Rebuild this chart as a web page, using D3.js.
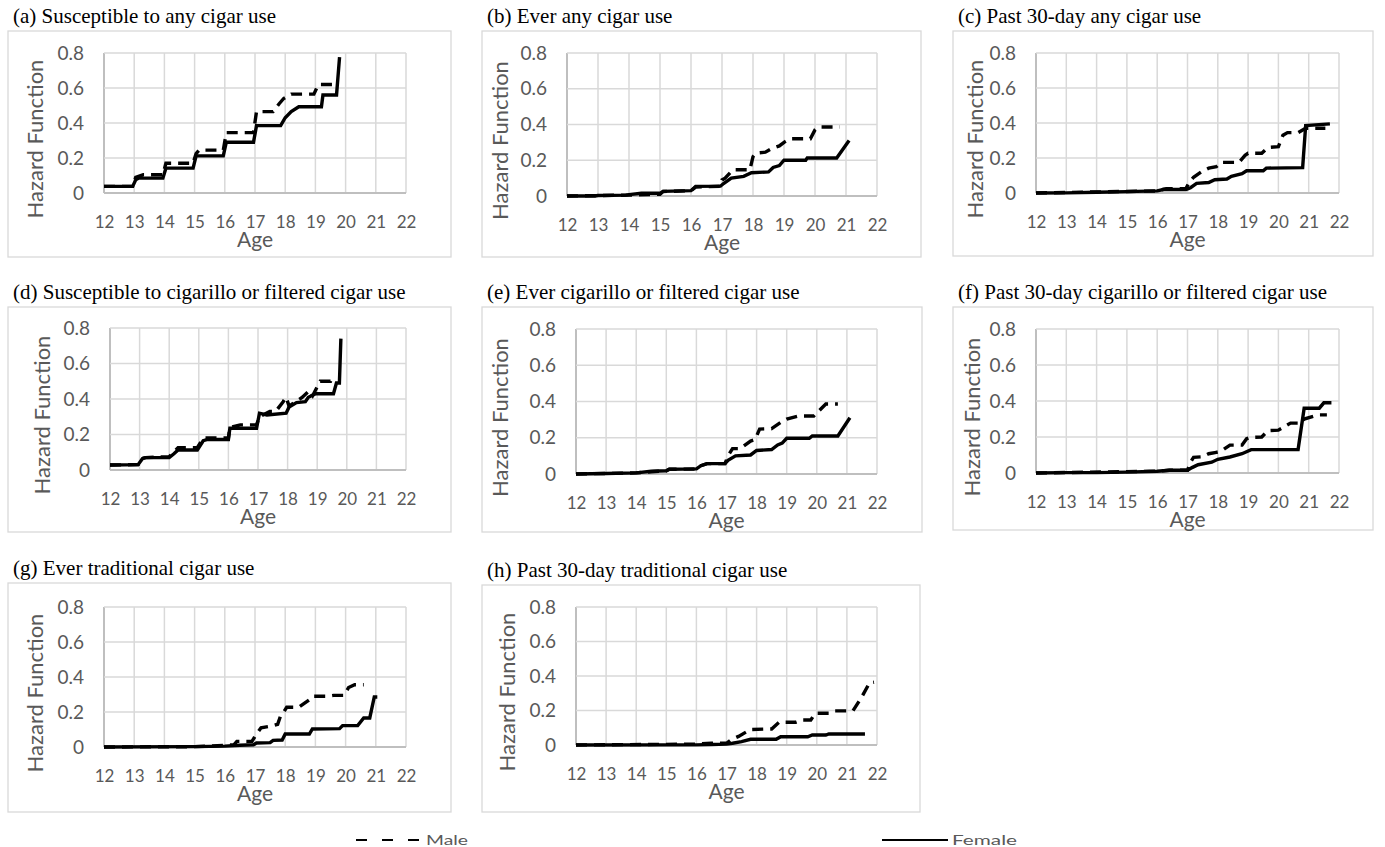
<!DOCTYPE html>
<html>
<head>
<meta charset="utf-8">
<script src="https://cdn.jsdelivr.net/npm/d3@7"></script>
<style>
  body { margin: 0; background: #fff; }
  text { fill: #595959; }
</style>
</head>
<body>
<svg id="chart" width="1385" height="847"></svg>
<script>
// panel titles
const TITLES = [
  "(a) Susceptible to any cigar use",
  "(b) Ever any cigar use",
  "(c) Past 30-day any cigar use",
  "(d) Susceptible to cigarillo or filtered cigar use",
  "(e) Ever cigarillo or filtered cigar use",
  "(f) Past 30-day cigarillo or filtered cigar use",
  "(g) Ever traditional cigar use",
  "(h) Past 30-day traditional cigar use"
];
const AGE_TICKS = [12, 13, 14, 15, 16, 17, 18, 19, 20, 21, 22];
const HAZ_TICKS = [0, 0.2, 0.4, 0.6, 0.8];
const SERIES = ["Male", "Female"];

// [age, hazard] points
const maleA = [[12,0.038],[12.95,0.038],[13.05,0.09],[13.3,0.104],[13.95,0.104],[14.05,0.17],[14.95,0.17],[15.05,0.225],[15.15,0.245],[15.95,0.245],[16.05,0.345],[16.95,0.345],[17.05,0.465],[17.6,0.465],[17.8,0.51],[17.95,0.54],[18.2,0.565],[18.95,0.565],[19.1,0.62],[19.65,0.62]];
const femaleA = [[12,0.038],[12.95,0.038],[13.05,0.075],[13.15,0.085],[13.95,0.085],[14.05,0.142],[14.95,0.142],[15.05,0.212],[15.95,0.212],[16.05,0.29],[16.95,0.29],[17.05,0.385],[17.85,0.385],[18.0,0.43],[18.2,0.465],[18.45,0.493],[19.2,0.493],[19.25,0.56],[19.7,0.56],[19.8,0.777]];

const maleB = [[12,0],[14,0.005],[15,0.01],[15.1,0.025],[16,0.03],[16.15,0.05],[16.95,0.055],[17.0,0.09],[17.1,0.1],[17.35,0.147],[17.9,0.147],[18.0,0.22],[18.1,0.24],[18.4,0.245],[18.6,0.265],[18.85,0.28],[19.0,0.3],[19.2,0.32],[19.85,0.32],[20.0,0.37],[20.1,0.386],[20.8,0.386]];
const femaleB = [[12,0],[12.9,0],[13,0.003],[13.9,0.005],[14,0.008],[14.4,0.015],[15,0.015],[15.1,0.026],[16,0.03],[16.15,0.054],[16.95,0.055],[17.05,0.07],[17.3,0.1],[17.7,0.11],[17.95,0.13],[18.5,0.135],[18.65,0.16],[18.85,0.17],[19.0,0.2],[19.7,0.2],[19.75,0.213],[20.7,0.213],[21.1,0.31]];

const maleC = [[12,0],[16,0.012],[16.3,0.025],[16.95,0.025],[17.05,0.06],[17.2,0.09],[17.45,0.12],[17.7,0.142],[17.95,0.15],[18.1,0.175],[18.7,0.175],[18.9,0.215],[19.0,0.227],[19.45,0.227],[19.65,0.26],[20.0,0.265],[20.15,0.33],[20.3,0.345],[20.65,0.345],[20.9,0.37],[21.55,0.37]];
const femaleC = [[12,0],[13,0.001],[14,0.004],[15,0.008],[16,0.012],[16.2,0.02],[16.95,0.02],[17.1,0.03],[17.3,0.055],[17.7,0.06],[17.9,0.076],[18.3,0.08],[18.45,0.095],[18.8,0.11],[18.95,0.127],[19.5,0.127],[19.6,0.142],[20.8,0.145],[20.9,0.385],[21.7,0.395]];

const maleD = [[12,0.028],[12.95,0.03],[13.1,0.065],[13.2,0.07],[14.0,0.075],[14.3,0.126],[14.95,0.126],[15.15,0.18],[16.0,0.18],[16.05,0.24],[16.4,0.254],[16.95,0.254],[17.05,0.3],[17.4,0.33],[17.6,0.33],[17.85,0.385],[17.95,0.41],[18.05,0.36],[18.5,0.41],[18.75,0.45],[18.85,0.42],[19.1,0.5],[19.45,0.5],[19.5,0.52]];
const femaleD = [[12,0.028],[12.95,0.03],[13.1,0.065],[13.2,0.07],[14.0,0.07],[14.15,0.09],[14.3,0.113],[14.95,0.113],[15.15,0.165],[15.3,0.172],[16.0,0.172],[16.05,0.235],[16.95,0.235],[17.05,0.32],[17.3,0.31],[17.95,0.32],[18.05,0.355],[18.3,0.38],[18.6,0.385],[18.7,0.41],[18.95,0.43],[19.55,0.43],[19.65,0.49],[19.75,0.49],[19.8,0.74]];

const maleE = [[12,0],[14,0.006],[15,0.018],[15.1,0.026],[16,0.028],[16.15,0.046],[16.35,0.057],[16.95,0.057],[17.05,0.1],[17.2,0.14],[17.45,0.14],[17.8,0.182],[17.95,0.19],[18.1,0.248],[18.5,0.25],[18.85,0.29],[19.0,0.303],[19.4,0.32],[19.9,0.32],[20.2,0.37],[20.3,0.386],[20.7,0.386]];
const femaleE = [[12,0],[13,0.003],[14,0.006],[14.5,0.015],[15,0.018],[15.1,0.026],[16,0.028],[16.15,0.046],[16.35,0.057],[16.95,0.057],[17.05,0.075],[17.3,0.1],[17.8,0.105],[18.0,0.13],[18.5,0.135],[18.7,0.16],[18.85,0.17],[19.0,0.197],[19.75,0.197],[19.85,0.21],[20.7,0.21],[21.1,0.31]];

const maleF = [[12,0],[16,0.01],[16.4,0.015],[17,0.015],[17.1,0.06],[17.2,0.087],[17.5,0.09],[17.7,0.107],[17.95,0.115],[18.1,0.12],[18.4,0.155],[18.8,0.155],[18.95,0.19],[19.1,0.198],[19.45,0.2],[19.65,0.235],[20.0,0.238],[20.4,0.277],[20.75,0.277],[20.85,0.3],[21.3,0.323],[21.6,0.323]];
const femaleF = [[12,0],[13,0.002],[14,0.002],[15,0.005],[16,0.01],[16.4,0.015],[17,0.015],[17.15,0.03],[17.35,0.046],[17.8,0.06],[18.0,0.076],[18.4,0.089],[18.8,0.107],[19.1,0.13],[20.65,0.13],[20.85,0.36],[21.35,0.36],[21.5,0.39],[21.75,0.39]];

const maleG = [[12,0],[15,0.002],[15.5,0.005],[16.0,0.01],[16.3,0.012],[16.4,0.032],[16.9,0.032],[17.0,0.061],[17.2,0.11],[17.55,0.12],[17.75,0.13],[17.85,0.18],[17.95,0.2],[18.05,0.227],[18.45,0.227],[18.8,0.27],[18.9,0.29],[19.4,0.29],[19.6,0.295],[19.95,0.295],[20.1,0.34],[20.3,0.356],[20.6,0.356]];
const femaleG = [[12,0],[15,0.002],[16,0.005],[16.5,0.01],[16.95,0.013],[17.05,0.023],[17.5,0.025],[17.6,0.038],[17.9,0.04],[18.0,0.074],[18.8,0.074],[18.9,0.103],[19.8,0.105],[19.9,0.122],[20.4,0.122],[20.6,0.166],[20.8,0.166],[20.95,0.286],[21.05,0.286]];

const maleH = [[12,0],[16,0.005],[16.5,0.01],[17,0.01],[17.15,0.03],[17.4,0.05],[17.8,0.09],[18.5,0.093],[18.75,0.132],[19.3,0.132],[19.5,0.145],[19.8,0.145],[19.95,0.184],[20.4,0.184],[20.6,0.198],[21.2,0.198],[21.5,0.28],[21.75,0.36],[21.9,0.364]];
const femaleH = [[12,0],[16,0.001],[16.5,0.003],[17,0.005],[17.2,0.01],[17.5,0.02],[17.8,0.033],[18.65,0.033],[18.8,0.048],[19.7,0.048],[19.85,0.058],[20.3,0.058],[20.4,0.064],[21.6,0.064]];

const MALE = [maleA, maleB, maleC, maleD, maleE, maleF, maleG, maleH];
const FEMALE = [femaleA, femaleB, femaleC, femaleD, femaleE, femaleF, femaleG, femaleH];

// layout: outer box [x, y, w, h], plot rect [left, top, right, bottom], y-title baseline x
const BOXES = [[8,31,443,226],[482,31,439,226],[953,31,420,225],
               [8,307,443,225],[482,307,440,225],[953,307,420,223],
               [8,583,443,229],[482,585,438,227]];
const PLOTS = [[104,53,406,193],[567,53,877,196],[1036,53,1339,193],
               [110,328,406,470],[576,329,877,474],[1036,329,1339,473],
               [104,607,406,747],[576,607,877,745]];
const YTITLE_X = [43, 508, 983, 50, 508, 980, 43, 515];

const svg = d3.select('#chart');
const GRID = '#d9d9d9';
const AXIS = '#bfbfbf';
const SANS = 'Lato, "Open Sans", sans-serif';

TITLES.forEach(function(title, i) {
  const box = BOXES[i], p = PLOTS[i];
  const g = svg.append('g');

  g.append('rect')
    .attr('x', box[0]).attr('y', box[1])
    .attr('width', box[2]).attr('height', box[3])
    .attr('fill', '#fff').attr('stroke', GRID).attr('stroke-width', 1.3);

  g.append('text')
    .attr('x', box[0] + 5).attr('y', box[1] - 8)
    .style('font-family', '"Liberation Serif", "Times New Roman", serif')
    .style('font-size', '21px').style('fill', '#000')
    .text(title);

  const x = d3.scaleLinear().domain([12, 22]).range([p[0], p[2]]);
  const y = d3.scaleLinear().domain([0, 0.8]).range([p[3], p[1]]);

  // grid
  g.append('g').selectAll('line').data(AGE_TICKS).enter().append('line')
    .attr('x1', d => x(d)).attr('x2', d => x(d))
    .attr('y1', p[1]).attr('y2', p[3])
    .attr('stroke', d => d === 12 ? AXIS : GRID).attr('stroke-width', d => d === 12 ? 2 : 1.5);
  g.append('g').selectAll('line').data(HAZ_TICKS).enter().append('line')
    .attr('x1', p[0]).attr('x2', p[2])
    .attr('y1', d => y(d)).attr('y2', d => y(d))
    .attr('stroke', d => d === 0 ? AXIS : GRID).attr('stroke-width', d => d === 0 ? 2 : 1.5);

  // axes (labels only, Excel style)
  const yAxis = g.append('g').attr('transform', `translate(${p[0]},0)`)
    .call(d3.axisLeft(y).tickValues(HAZ_TICKS).tickSize(0).tickPadding(20)
      .tickFormat(d => d === 0 ? '0' : d3.format('.1f')(d)));
  const xAxis = g.append('g').attr('transform', `translate(0,${p[3]})`)
    .call(d3.axisBottom(x).tickValues(AGE_TICKS).tickSize(0).tickPadding(23)
      .tickFormat(d3.format('d')));
  yAxis.select('.domain').remove();
  xAxis.select('.domain').remove();
  yAxis.selectAll('text').style('font-family', SANS).style('font-size', '19px').style('fill', '#595959');
  xAxis.selectAll('text').style('font-family', SANS).style('font-size', '17px').style('fill', '#595959');

  g.append('text')
    .attr('x', (p[0] + p[2]) / 2).attr('y', p[3] + 54)
    .attr('text-anchor', 'middle')
    .style('font-family', SANS).style('font-size', '21px')
    .text('Age');

  g.append('text')
    .attr('transform', `translate(${YTITLE_X[i]},${(p[1] + p[3]) / 2 + 16}) rotate(-90)`)
    .attr('text-anchor', 'middle')
    .style('font-family', SANS).style('font-size', '22px')
    .text('Hazard Function');

  const line = d3.line().x(d => x(d[0])).y(d => y(d[1]));

  g.append('path').datum(MALE[i]).attr('d', line)
    .attr('fill', 'none').attr('stroke', '#000').attr('stroke-width', 3.4)
    .attr('stroke-dasharray', '11,7');
  g.append('path').datum(FEMALE[i]).attr('d', line)
    .attr('fill', 'none').attr('stroke', '#000').attr('stroke-width', 3.4);
});

// legend
const LEGEND_POS = [356, 882];
const LEGEND_TEXT_W = [42, 65];
SERIES.forEach(function(name, i) {
  const lx = LEGEND_POS[i];
  svg.append('line')
    .attr('x1', lx).attr('x2', lx + 66).attr('y1', 840).attr('y2', 840)
    .attr('stroke', '#000').attr('stroke-width', 2)
    .attr('stroke-dasharray', i === 0 ? '11,15' : null);
  svg.append('text')
    .attr('x', lx + 70).attr('y', 845)
    .attr('textLength', LEGEND_TEXT_W[i]).attr('lengthAdjust', 'spacingAndGlyphs')
    .style('font-family', SANS).style('font-size', '14px')
    .text(name);
});
</script>
</body>
</html>
